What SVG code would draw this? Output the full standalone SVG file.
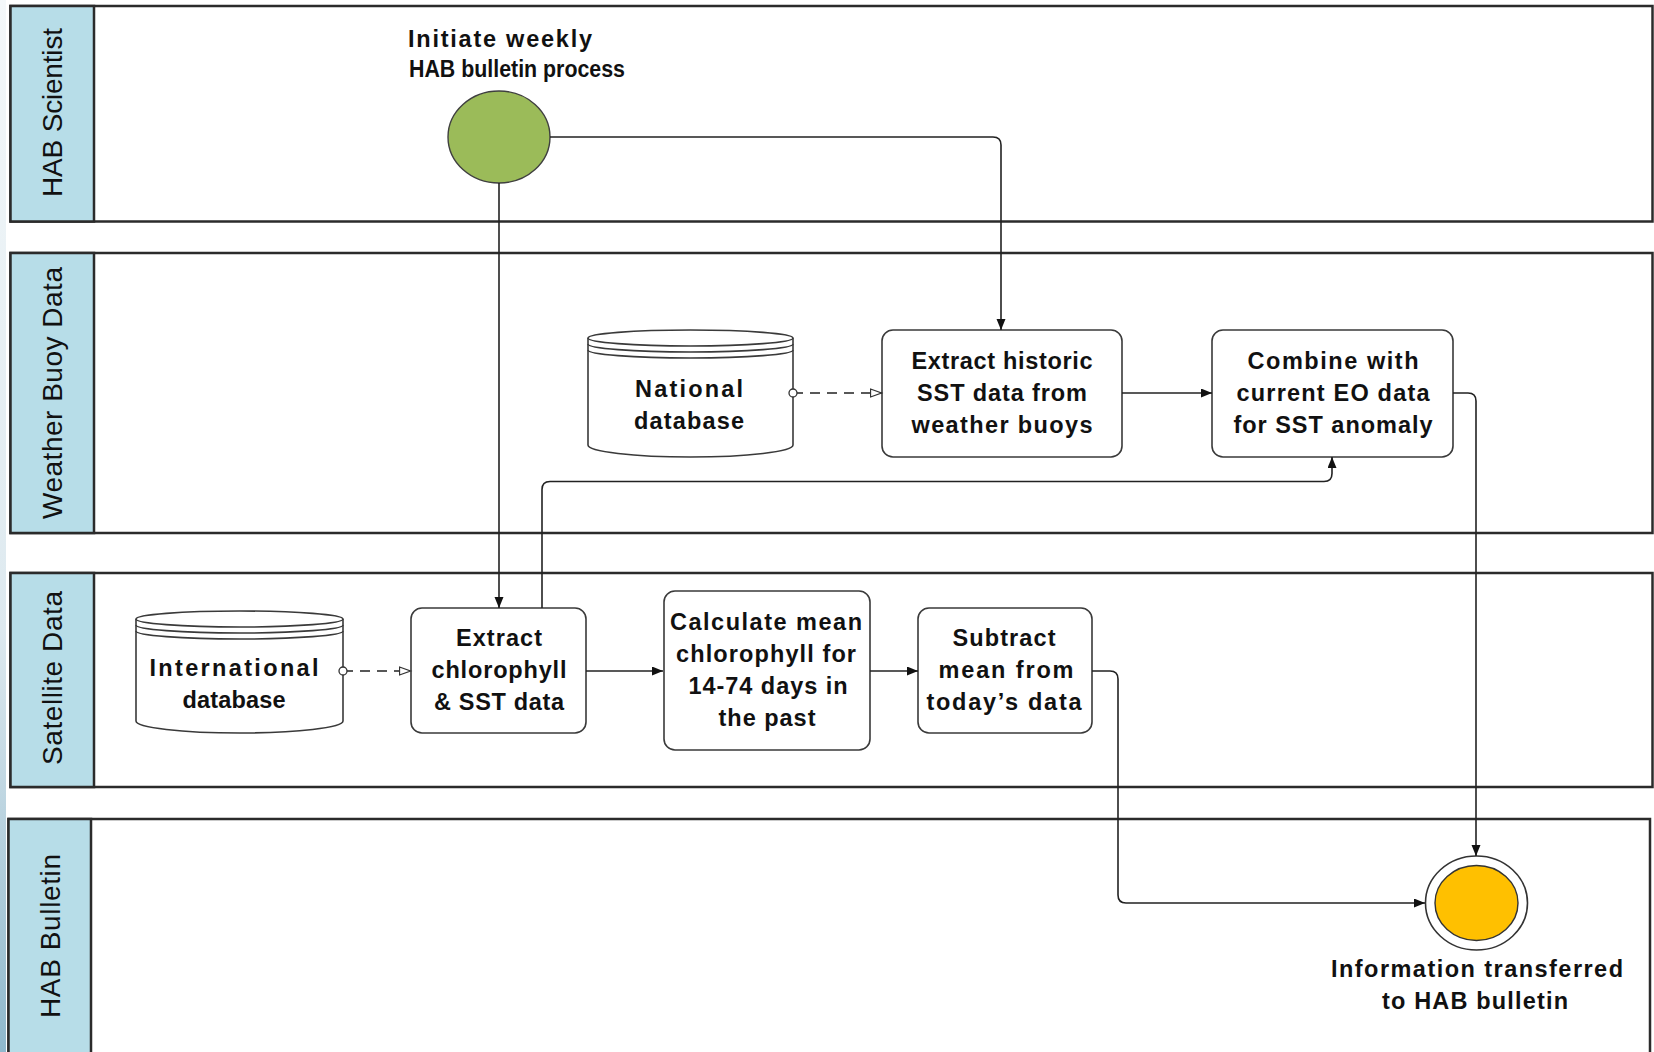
<svg xmlns="http://www.w3.org/2000/svg" width="1654" height="1052" viewBox="0 0 1654 1052">
  <defs>
    <linearGradient id="edge" x1="0" y1="0" x2="0" y2="1">
      <stop offset="0" stop-color="#f4f8fa"/>
      <stop offset="0.6" stop-color="#dde9ef"/>
      <stop offset="1" stop-color="#8fb8cc"/>
    </linearGradient>
    <marker id="arrow" markerUnits="userSpaceOnUse" markerWidth="12" markerHeight="10" refX="11" refY="4.5" orient="auto">
      <path d="M0,0 L11,4.5 L0,9 z" fill="#111"/>
    </marker>
    <marker id="openArrow" markerUnits="userSpaceOnUse" markerWidth="14" markerHeight="12" refX="12.5" refY="5" orient="auto">
      <path d="M1,1 L12,5 L1,9 z" fill="#fff" stroke="#333" stroke-width="1.3"/>
    </marker>
    <marker id="dot" markerUnits="userSpaceOnUse" markerWidth="12" markerHeight="12" refX="6" refY="6" orient="auto">
      <circle cx="6" cy="6" r="4" fill="#fff" stroke="#333" stroke-width="1.3"/>
    </marker>
  </defs>
  <style>
    .lane { fill: #ffffff; stroke: #2b2b2b; stroke-width: 2.5; }
    .laneHead { fill: #b7dde8; stroke: #2b2b2b; stroke-width: 2.5; }
    .laneText { font-family: "Liberation Sans", Arial, sans-serif; font-size: 28px; fill: #111; }
    .task { fill: #ffffff; stroke: #3a3a3a; stroke-width: 1.6; }
    .db { fill: #ffffff; stroke: #3a3a3a; stroke-width: 1.6; }
    .ring { fill: none; stroke: #3a3a3a; stroke-width: 1.6; }
    .lbl { font-family: "Liberation Sans", Arial, sans-serif; font-size: 23.5px; font-weight: bold; fill: #111; text-anchor: middle; }
    .flow { fill: none; stroke: #222; stroke-width: 1.6; }
    .msg { fill: none; stroke: #222; stroke-width: 1.6; stroke-dasharray: 10 7; }
  </style>

  <rect x="0" y="0" width="1654" height="1052" fill="#ffffff"/>
  <rect x="0" y="0" width="6" height="1052" fill="url(#edge)"/>

  <!-- Lanes -->
  <g id="lane-hab-scientist">
    <rect class="lane" x="10.5" y="6" width="1642" height="215.5"/>
    <rect class="laneHead" x="10.5" y="6" width="83.5" height="215.5"/>
    <text class="laneText" transform="translate(52,112.5) rotate(-90)" y="10" text-anchor="middle" textLength="169" lengthAdjust="spacing">HAB Scientist</text>
  </g>
  <g id="lane-weather-buoy">
    <rect class="lane" x="10.5" y="253" width="1642" height="280"/>
    <rect class="laneHead" x="10.5" y="253" width="83.5" height="280"/>
    <text class="laneText" transform="translate(52,393) rotate(-90)" y="10" text-anchor="middle" textLength="252" lengthAdjust="spacing">Weather Buoy Data</text>
  </g>
  <g id="lane-satellite">
    <rect class="lane" x="10.5" y="573" width="1642" height="214"/>
    <rect class="laneHead" x="10.5" y="573" width="83.5" height="214"/>
    <text class="laneText" transform="translate(52,678) rotate(-90)" y="10" text-anchor="middle" textLength="174" lengthAdjust="spacing">Satellite Data</text>
  </g>
  <g id="lane-hab-bulletin">
    <rect class="lane" x="8.5" y="819" width="1641.5" height="245"/>
    <rect class="laneHead" x="8.5" y="819" width="82.5" height="245"/>
    <text class="laneText" transform="translate(50,936) rotate(-90)" y="10" text-anchor="middle" textLength="164" lengthAdjust="spacing">HAB Bulletin</text>
  </g>

  <!-- Start event -->
  <g id="start-event">
    <ellipse cx="499" cy="137" rx="51" ry="46" fill="#9bbb59" stroke="#3f3f3f" stroke-width="1.4"/>
    <text class="lbl" x="500" y="47" textLength="184" lengthAdjust="spacing">Initiate weekly</text>
    <text class="lbl" x="517" y="77" textLength="216" lengthAdjust="spacingAndGlyphs">HAB bulletin process</text>
  </g>

  <!-- National database -->
  <g id="national-database">
    <path class="db" d="M588,338 V445 A102.5,12 0 0 0 793,445 V338 A102.5,8 0 0 0 588,338 Z"/>
    <path class="ring" d="M588,338 A102.5,8 0 0 0 793,338"/>
    <path class="ring" d="M588,344 A102.5,8 0 0 0 793,344"/>
    <path class="ring" d="M588,350 A102.5,8 0 0 0 793,350"/>
    <text class="lbl" x="689" y="397" textLength="108" lengthAdjust="spacing">National</text>
    <text class="lbl" x="689" y="429" textLength="110" lengthAdjust="spacing">database</text>
  </g>

  <!-- International database -->
  <g id="international-database">
    <path class="db" d="M136,619 V721 A103.5,12 0 0 0 343,721 V619 A103.5,8 0 0 0 136,619 Z"/>
    <path class="ring" d="M136,619 A103.5,8 0 0 0 343,619"/>
    <path class="ring" d="M136,625 A103.5,8 0 0 0 343,625"/>
    <path class="ring" d="M136,631 A103.5,8 0 0 0 343,631"/>
    <text class="lbl" x="234" y="676" textLength="169" lengthAdjust="spacing">International</text>
    <text class="lbl" x="234" y="708" textLength="103" lengthAdjust="spacing">database</text>
  </g>

  <!-- Tasks -->
  <g id="task-extract-historic">
    <rect class="task" x="882" y="330" width="240" height="127" rx="11" ry="11"/>
    <text class="lbl" x="1002" y="369" textLength="181" lengthAdjust="spacing">Extract historic</text>
    <text class="lbl" x="1002" y="401" textLength="170" lengthAdjust="spacing">SST data from</text>
    <text class="lbl" x="1002" y="433" textLength="181" lengthAdjust="spacing">weather buoys</text>
  </g>
  <g id="task-combine">
    <rect class="task" x="1212" y="330" width="241" height="127" rx="11" ry="11"/>
    <text class="lbl" x="1333" y="369" textLength="171" lengthAdjust="spacing">Combine with</text>
    <text class="lbl" x="1333" y="401" textLength="193" lengthAdjust="spacing">current EO data</text>
    <text class="lbl" x="1333" y="433" textLength="199" lengthAdjust="spacing">for SST anomaly</text>
  </g>
  <g id="task-extract-chlorophyll">
    <rect class="task" x="411" y="608" width="175" height="125" rx="11" ry="11"/>
    <text class="lbl" x="499" y="646" textLength="86" lengthAdjust="spacing">Extract</text>
    <text class="lbl" x="499" y="678" textLength="135" lengthAdjust="spacing">chlorophyll</text>
    <text class="lbl" x="499" y="710" textLength="130" lengthAdjust="spacing">&amp; SST data</text>
  </g>
  <g id="task-calculate-mean">
    <rect class="task" x="664" y="591" width="206" height="159" rx="11" ry="11"/>
    <text class="lbl" x="766" y="630" textLength="192" lengthAdjust="spacing">Calculate mean</text>
    <text class="lbl" x="766" y="662" textLength="180" lengthAdjust="spacing">chlorophyll for</text>
    <text class="lbl" x="768" y="694" textLength="159" lengthAdjust="spacing">14-74 days in</text>
    <text class="lbl" x="767" y="726" textLength="97" lengthAdjust="spacing">the past</text>
  </g>
  <g id="task-subtract">
    <rect class="task" x="918" y="608" width="174" height="125" rx="11" ry="11"/>
    <text class="lbl" x="1004" y="646" textLength="103" lengthAdjust="spacing">Subtract</text>
    <text class="lbl" x="1006" y="678" textLength="135" lengthAdjust="spacing">mean from</text>
    <text class="lbl" x="1004" y="710" textLength="155" lengthAdjust="spacing">today’s data</text>
  </g>

  <!-- End event -->
  <g id="end-event">
    <ellipse cx="1476.5" cy="903" rx="51" ry="47" fill="#ffffff" stroke="#333" stroke-width="1.6"/>
    <ellipse cx="1476.5" cy="903" rx="41.5" ry="37.5" fill="#ffc000" stroke="#333" stroke-width="1.4"/>
    <text class="lbl" x="1477" y="977" textLength="292" lengthAdjust="spacing">Information transferred</text>
    <text class="lbl" x="1475" y="1009" textLength="186" lengthAdjust="spacing">to HAB bulletin</text>
  </g>

  <!-- Connectors -->
  <g id="connectors">
    <path class="flow" d="M550,137 H993 Q1001,137 1001,145 V330" marker-end="url(#arrow)"/>
    <path class="flow" d="M499,183 V608" marker-end="url(#arrow)"/>
    <path class="flow" d="M542,608 V489.5 Q542,481.5 550,481.5 H1324 Q1332,481.5 1332,473.5 V457" marker-end="url(#arrow)"/>
    <path class="flow" d="M1453,393 H1468 Q1476,393 1476,401 V856" marker-end="url(#arrow)"/>
    <path class="flow" d="M1092,671 H1110 Q1118,671 1118,679 V895 Q1118,903 1126,903 H1425" marker-end="url(#arrow)"/>
    <path class="flow" d="M1122,393 H1212" marker-end="url(#arrow)"/>
    <path class="flow" d="M586,671 H663" marker-end="url(#arrow)"/>
    <path class="flow" d="M870,671 H918" marker-end="url(#arrow)"/>
    <path class="msg" d="M793,393 H882" marker-start="url(#dot)" marker-end="url(#openArrow)"/>
    <path class="msg" d="M343,671 H411" marker-start="url(#dot)" marker-end="url(#openArrow)"/>
  </g>
</svg>
